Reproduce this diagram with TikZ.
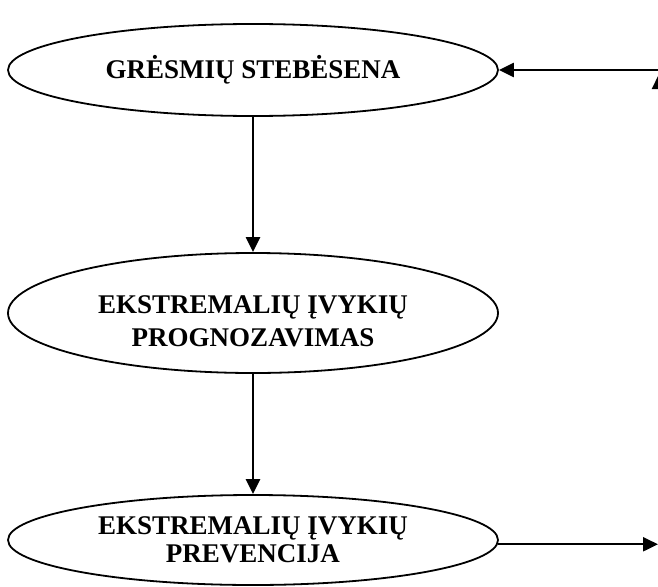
\documentclass[tikz,border=0pt]{standalone}
\usepackage{fontspec}
\setmainfont{Liberation Serif}
\usetikzlibrary{shapes.geometric,arrows.meta}
\begin{document}
\begin{tikzpicture}[x=1pt,y=-1pt,
  stage/.style={ellipse, draw, line width=1.8pt, inner sep=0pt,
    minimum width=490pt, minimum height=92pt, align=center,
    font=\fontsize{27}{33}\selectfont\bfseries},
  caption/.style={align=center, inner sep=0pt,
    font=\fontsize{27}{33}\selectfont\bfseries},
  flow/.style={line width=2.3pt, -{Triangle[length=15pt,width=14pt]}}]
\useasboundingbox (0,0) rectangle (658,586);
\clip (0,0) rectangle (658,586);

\node[stage] (monitor) at (253,70) {GRĖSMIŲ STEBĖSENA};
\node[stage, minimum height=120pt] (forecast) at (253,313) {};
\node[caption] (forecasttext) at ([yshift=-8pt]forecast.center) {EKSTREMALIŲ ĮVYKIŲ\\PROGNOZAVIMAS};
\node[stage, minimum height=90pt,
  font=\fontsize{27}{28}\selectfont\bfseries] (prevent) at (253,540) {EKSTREMALIŲ ĮVYKIŲ\\PREVENCIJA};

% return line entering from the right edge
\coordinate (back) at (659,70);
\coordinate (backlow) at (659,110);
\coordinate (out) at (658,0);

\draw[flow] (monitor.south) -- (forecast.north);
\draw[flow] (forecast.south) -- (prevent.north);
\draw[flow] (back) -- (monitor.east);
\draw[flow] (backlow) -- ([yshift=-4pt]back);
\draw[flow] (prevent.-1.4) -- (prevent.-1.4 -| out);
\end{tikzpicture}
\end{document}
